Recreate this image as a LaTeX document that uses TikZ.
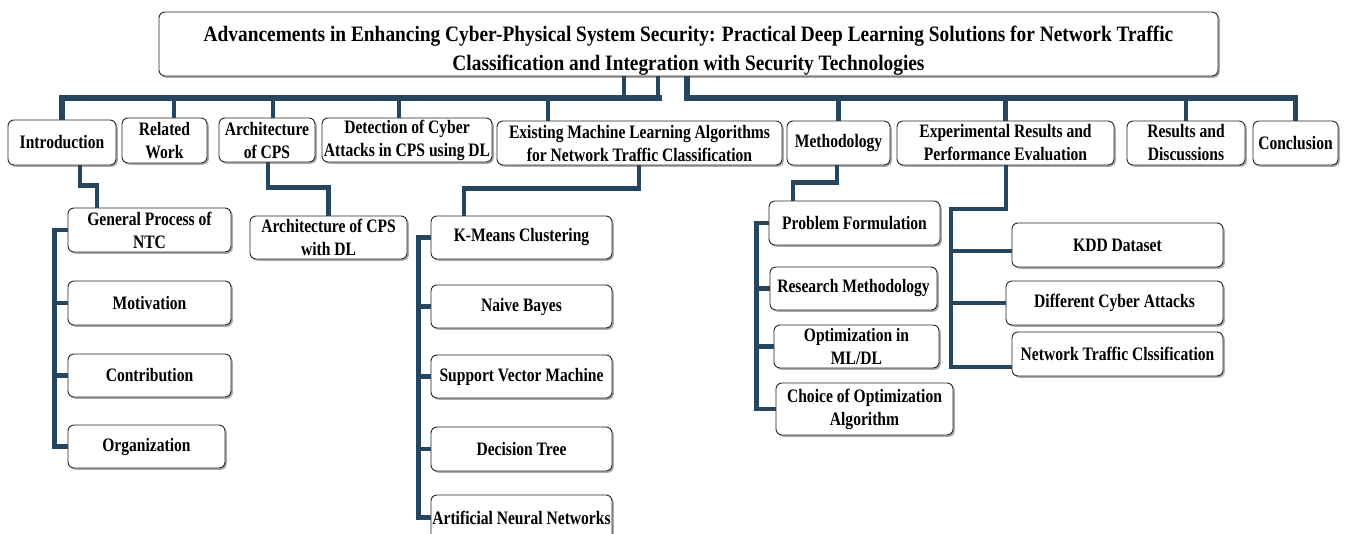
\documentclass[tikz,border=0pt]{standalone}
\usepackage{fontspec}
\setmainfont{Liberation Serif}[FakeStretch=0.82]
\newfontfamily\titlefont{Liberation Serif}[FakeStretch=0.88]
\usetikzlibrary{shadows}
\definecolor{lc}{RGB}{38,70,96}
\begin{document}
\begin{tikzpicture}[x=1pt,y=-1pt,
 box/.style={draw=black!85, line width=0.9pt, rounded corners=6pt, fill=white,
   drop shadow={shadow xshift=1.8pt, shadow yshift=-1.8pt, fill=black!55, opacity=0.6},
   inner sep=0pt, align=center, font=\bfseries\fontsize{19}{23}\selectfont},
 wh/.style 2 args={minimum width=#1pt, minimum height=#2pt},
 conn/.style={draw=lc, line width=4.5pt},
 bus/.style={draw=lc, line width=5.5pt},
 ]
\useasboundingbox (0,0) rectangle (1349,533);
% title
\node[box, wh={1059}{64}, font=\titlefont\bfseries\fontsize{22}{29}\selectfont] (title) at (688.5,44)
 {\rule{0pt}{28pt}Advancements in Enhancing Cyber-Physical System Security: Practical Deep Learning Solutions for Network Traffic\\
  Classification and Integration with Security Technologies};
% top level
\node[box, wh={108}{45}] (intro) at (62,142.5) {Introduction};
\node[box, wh={85}{45}] (rel) at (164.5,140.5) {Related\\Work};
\node[box, wh={96}{44}] (arch) at (267,140) {Architecture\\of CPS};
\node[box, wh={170}{44}] (det) at (407,140) {Detection of Cyber\\Attacks in CPS using DL};
\node[box, wh={285}{44}] (exist) at (639.5,143) {Existing Machine Learning Algorithms\\for Network Traffic Classification};
\node[box, wh={103}{44}] (meth) at (838.5,143) {Methodology};
\node[box, wh={217}{44}] (exper) at (1005.5,143) {Experimental Results and\\Performance Evaluation};
\node[box, wh={118}{44}] (res) at (1186,143) {Results and\\Discussions};
\node[box, wh={85}{44}] (concl) at (1295.5,143) {Conclusion};
% introduction children
\node[box, wh={163}{44}] (gen) at (149.5,230) {General Process of\\NTC};
\node[box, wh={163}{44}] (motiv) at (149.5,303) {Motivation};
\node[box, wh={163}{43}] (contrib) at (149.5,375.5) {Contribution};
\node[box, wh={157}{43}] (org) at (146.5,446.5) {Organization};
% architecture child
\node[box, wh={157}{43}] (archdl) at (328.5,237.5) {Architecture of CPS\\with DL};
% existing children
\node[box, wh={181}{43}] (km) at (521.5,237.5) {K-Means Clustering};
\node[box, wh={181}{43}] (nb) at (521.5,306.5) {Naive Bayes};
\node[box, wh={181}{43}] (svm) at (521.5,376.5) {Support Vector Machine};
\node[box, wh={181}{44}] (dt) at (521.5,449) {Decision Tree};
\node[box, wh={181}{45}] (ann) at (521.5,517.5) {Artificial Neural Networks};
% methodology children
\node[box, wh={171}{44}] (pf) at (854.5,223) {Problem Formulation};
\node[box, wh={167}{43}] (rm) at (853.5,288.5) {Research Methodology};
\node[box, wh={165}{43}] (opt) at (856.5,346.5) {Optimization in\\ML/DL};
\node[box, wh={177}{52}] (choice) at (864.5,409) {Choice of Optimization\\Algorithm};
% experimental children
\node[box, wh={211}{44}] (kdd) at (1117.5,245) {KDD Dataset};
\node[box, wh={217}{44}] (diff) at (1114.5,303) {Different Cyber Attacks};
\node[box, wh={211}{44}] (ntc) at (1117.5,354) {Network Traffic Clssification};

% ---------- connectors ----------
\coordinate (lbus) at (662,98);
\coordinate (rbus) at (687,98);
% title stubs
\draw[conn] ([xshift=-64.5pt]title.south) -- ([xshift=-64.5pt]title.south |- lbus);
\draw[conn] ([xshift=-30.5pt]title.south) -- ([xshift=-30.5pt]title.south |- lbus);
\draw[bus] (intro.north) |- (lbus);
\draw[bus] ([xshift=-1.5pt]title.south) -- (rbus) -| (concl.north);
% left stubs
\draw[conn] ([xshift=9.5pt]rel.north) -- ([xshift=9.5pt]rel.north |- lbus);
\draw[conn] ([xshift=6pt]arch.north) -- ([xshift=6pt]arch.north |- lbus);
\draw[conn] ([xshift=-8pt]det.north) -- ([xshift=-8pt]det.north |- lbus);
\draw[conn] ([xshift=-91.5pt]exist.north) -- ([xshift=-91.5pt]exist.north |- lbus);
% right stubs
\draw[conn] (meth.north) -- (meth.north |- rbus);
\draw[conn] (exper.north) -- (exper.north |- rbus);
\draw[conn] (res.north) -- (res.north |- rbus);

% introduction
\draw[conn] ([xshift=18pt]intro.south) -- ++(0,20) -| ([xshift=-52.5pt]gen.north);
\draw[conn] (gen.west) -- ++(-13,0) |- (org.west);
\coordinate (ibar) at ([xshift=-13pt]gen.west);
\draw[conn] (motiv.west) -- (motiv.west -| ibar);
\draw[conn] (contrib.west) -- (contrib.west -| ibar);
% architecture
\draw[conn] ([xshift=1pt]arch.south) -- ++(0,25) -| (archdl.north);
% existing
\draw[conn] ([xshift=-0.5pt]exist.south) -- ++(0,23) -| ([xshift=-57.5pt]km.north);
\draw[conn] (km.west) -- ++(-12,0) |- (ann.west);
\coordinate (xbar) at ([xshift=-12pt]km.west);
\draw[conn] (nb.west) -- (nb.west -| xbar);
\draw[conn] (svm.west) -- (svm.west -| xbar);
\draw[conn] (dt.west) -- (dt.west -| xbar);
% methodology
\draw[conn] ([xshift=-1.5pt]meth.south) -- ++(0,17) -| ([xshift=-61.5pt]pf.north);
\draw[conn] (pf.west) -- ++(-12,0) |- (choice.west);
\coordinate (mbar) at ([xshift=-12pt]pf.west);
\draw[conn] (rm.west) -- (rm.west -| mbar);
\draw[conn] (opt.west) -- (opt.west -| mbar);
% experimental
\coordinate (ebar) at (951,209);
\coordinate (kddt) at ([yshift=-6pt]kdd.west);
\coordinate (ntct) at ([yshift=-13pt]ntc.west);
\draw[conn] ([xshift=0.5pt]exper.south) |- (ebar) |- (ntct);
\draw[conn] (kddt) -- (kddt -| ebar);
\draw[conn] (diff.west) -- (diff.west -| ebar);
\end{tikzpicture}
\end{document}
